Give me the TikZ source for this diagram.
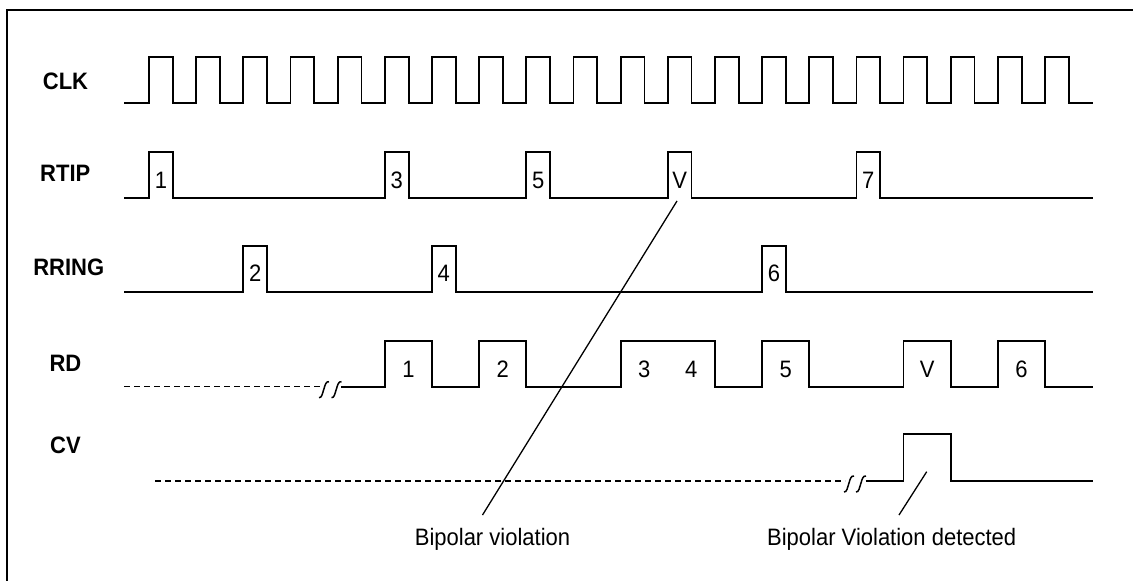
\documentclass[tikz,border=0pt]{standalone}
\usepackage{graphicx}
\usepackage{fontspec}
\setmainfont{Liberation Sans}
\newcommand\tallT[1]{\scalebox{1}[1.08]{#1}}
\begin{document}
\begin{tikzpicture}[x=1pt,y=-1pt,
  wave/.style={line width=1.8pt, line join=miter},
  ptr/.style={line width=1.3pt},
  dashline/.style={line width=1.5pt, dash pattern=on 6pt off 4pt},
  sig/.style={font=\fontsize{22}{26}\selectfont\bfseries, anchor=base, inner sep=0pt},
  num/.style={font=\fontsize{22}{26}\selectfont, anchor=base, inner sep=0pt},
  brk/.pic={\draw[line width=1.5pt] (-5,11) .. controls (-2,11.5) and (-1.5,6) .. (0,2) .. controls (1.2,-2) and (2,-5.5) .. (5,-5);},
  declare function={clkx(\n)=149+47.16*\n;}
]
\useasboundingbox (0,0) rectangle (1133,581);
% frame
\draw[line width=2pt] (6.5,590) -- (6.5,9.5) -- (1140,9.5);

% signal names
\node[sig] (lclk) at (65.5,89.5) {\tallT{CLK}};
\node[sig] (ltip) at (65.3,181) {\tallT{RTIP}};
\node[sig] (lring) at (68.8,275.5) {\tallT{RRING}};
\node[sig] (lrd) at (65.5,371) {\tallT{RD}};
\node[sig] (lcv) at (65.5,453.5) {\tallT{CV}};

% CLK
\draw[wave] (124.3,103.3) foreach \k in {0,...,19} { -- ({clkx(\k)},103.3) -- ({clkx(\k)},57.3) -- ({clkx(\k)+23.8},57.3) -- ({clkx(\k)+23.8},103.3) } -- (1093.3,103.3);

% RTIP
\draw[wave] (124.3,198.3) foreach \k in {0,5,8,11,15} { -- ({clkx(\k)},198.3) -- ({clkx(\k)},151.7) -- ({clkx(\k)+23.8},151.7) -- ({clkx(\k)+23.8},198.3) } -- (1093.3,198.3);
\foreach \k/\t in {0/1,5/3,8/5,11/V,15/7}
  \node[num] (tip\k) at ({clkx(\k)+11.9},188.6) {\tallT{\t}};

% RRING
\draw[wave] (124.3,292.3) foreach \k in {2,6,13} { -- ({clkx(\k)},292.3) -- ({clkx(\k)},246) -- ({clkx(\k)+23.8},246) -- ({clkx(\k)+23.8},292.3) } -- (1093.3,292.3);
\foreach \k/\t in {2/2,6/4,13/6}
  \node[num] (ring\k) at ({clkx(\k)+11.9},281.2) {\tallT{\t}};

% RD
\draw[dashline] (124.3,386.7) -- (320,386.7);
\pic at (324,386.7) {brk};
\pic at (336.5,386.7) {brk};
\draw[wave] (341,386.7) foreach \a/\b in {5/6,7/8,10/12,13/14,16/17,18/19} { -- ({clkx(\a)},386.7) -- ({clkx(\a)},340.7) -- ({clkx(\b)},340.7) -- ({clkx(\b)},386.7) } -- (1093.3,386.7);
\foreach \k/\t in {5/1,7/2,10/3,11/4,13/5,16/V,18/6}
  \node[num] (rd\k) at ({clkx(\k)+23.58},377.6) {\tallT{\t}};

% CV
\draw[dashline] (155,481) -- (845,481);
\pic at (849,481) {brk};
\pic at (861,481) {brk};
\draw[wave] (865.5,481) -- ({clkx(16)},481) -- ({clkx(16)},434.3) -- ({clkx(17)},434.3) -- ({clkx(17)},481) -- (1093.3,481);

% annotations
\node[num] (bv) at (492.5,545.5) {\tallT{Bipolar violation}};
\node[num] (bvd) at (891.7,545.5) {\tallT{Bipolar Violation detected}};
\coordinate (p1a) at (677,201);
\coordinate (p1b) at (482.5,515);
\coordinate (p2a) at (926.7,471.7);
\coordinate (p2b) at (899,515);
\draw[ptr] (p1a) -- (p1b);
\draw[ptr] (p2a) -- (p2b);
\end{tikzpicture}
\end{document}
